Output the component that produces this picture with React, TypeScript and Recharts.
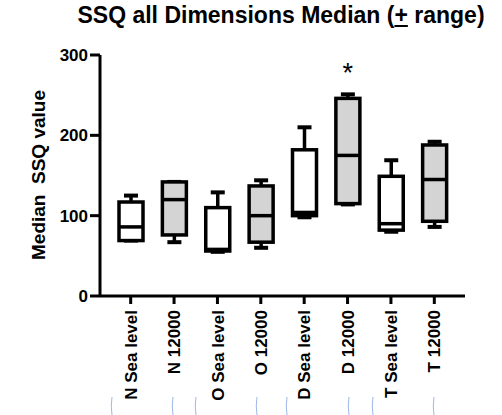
import { Bar, ComposedChart, Customized, XAxis, YAxis } from "recharts";

// groups, in plot order
const CATEGORIES = [
  "N Sea level",
  "N 12000",
  "O Sea level",
  "O 12000",
  "D Sea level",
  "D 12000",
  "T Sea level",
  "T 12000",
];

// box statistics
const MIN_VALUES = [69, 67, 55, 60, 98, 114, 80, 86];
const Q1_VALUES = [69, 76, 56, 67, 100, 115, 82, 93];
const MEDIAN_VALUES = [86, 120, 58, 100, 104, 175, 90, 145];
const Q3_VALUES = [117, 142, 110, 137, 182, 246, 149, 188];
const MAX_VALUES = [125, 142, 129, 144, 210, 251, 169, 192];
const SIG_MARKS = ["", "", "", "", "", "*", "", ""];

const Y_TICKS = [0, 100, 200, 300];

const FONT = "Arial, 'Liberation Sans', Helvetica, sans-serif";
const BOX_FILLS = ["#ffffff", "#d4d4d4"]; // sea level / 12000
const STROKE = "#000";

const data = CATEGORIES.map((name, i) => ({
  name,
  min: MIN_VALUES[i],
  q1: Q1_VALUES[i],
  median: MEDIAN_VALUES[i],
  q3: Q3_VALUES[i],
  max: MAX_VALUES[i],
  mark: SIG_MARKS[i],
}));

// box drawn on the q1..q3 range bar; other stats placed relative to it
const BoxShape = (props: any) => {
  const { x, y, width, height, payload, index } = props;
  const top = Math.min(y, y + height);
  const h = Math.abs(height);
  const ppu = h / (payload.q3 - payload.q1);
  const yOf = (v: number) => top + (payload.q3 - v) * ppu;
  const cx = x + width / 2;
  const cap = 7;
  return (
    <g>
      <line x1={cx} x2={cx} y1={yOf(payload.max)} y2={top} stroke={STROKE} strokeWidth={3.5} />
      <line x1={cx} x2={cx} y1={yOf(payload.min)} y2={top + h} stroke={STROKE} strokeWidth={3.5} />
      <line x1={cx - cap} x2={cx + cap} y1={yOf(payload.max)} y2={yOf(payload.max)} stroke={STROKE} strokeWidth={4} />
      <line x1={cx - cap} x2={cx + cap} y1={yOf(payload.min)} y2={yOf(payload.min)} stroke={STROKE} strokeWidth={4} />
      <rect x={x} y={top} width={width} height={h} fill={BOX_FILLS[index % 2]} stroke={STROKE} strokeWidth={3.5} />
      <line x1={x} x2={x + width} y1={yOf(payload.median)} y2={yOf(payload.median)} stroke={STROKE} strokeWidth={3.5} />
      {payload.mark ? (
        <text x={cx} y={yOf(payload.max) - 12} textAnchor="middle" fontSize={27} fontFamily={FONT} fill="#000">
          {payload.mark}
        </text>
      ) : null}
    </g>
  );
};

const XTick = (props: any) => {
  const { x, y, payload } = props;
  return (
    <text
      x={x}
      y={y + 4}
      transform={`rotate(-90, ${x}, ${y + 4})`}
      textAnchor="end"
      dy="0.36em"
      fontSize={17}
      fontWeight="bold"
      fontFamily={FONT}
      fill="#000"
    >
      {payload.value}
    </text>
  );
};

// faint blue marks under the labels in the source image
const Decor = () => {
  const xs = [112, 173, 196, 257, 287, 349, 373, 434];
  return (
    <g>
      {xs.map((bx, i) => (
        <path
          key={i}
          d={`M${bx},397 Q${bx - 1.5},406 ${bx},415`}
          fill="none"
          stroke="#9db7e8"
          strokeWidth={1}
        />
      ))}
    </g>
  );
};

export default function App() {
  return (
    <div style={{ position: "absolute", left: 0, top: 0, width: 502, height: 415, background: "#fff" }}>
      <div
        style={{
          position: "absolute",
          left: 0,
          top: 2,
          width: 562,
          textAlign: "center",
          fontFamily: FONT,
          fontWeight: "bold",
          fontSize: 23,
          lineHeight: "27px",
          color: "#000",
          whiteSpace: "nowrap",
        }}
      >
        SSQ all Dimensions Median (<span style={{ textDecoration: "underline" }}>+</span> range)
      </div>
      <ComposedChart
        width={502}
        height={415}
        data={data}
        margin={{ top: 55, right: 37, bottom: 19, left: 40 }}
      >
        <XAxis
          dataKey="name"
          interval={0}
          padding={{ left: 9, right: 9 }}
          tick={<XTick />}
          tickSize={8}
          axisLine={{ stroke: STROKE, strokeWidth: 3 }}
          tickLine={{ stroke: STROKE, strokeWidth: 3 }}
          height={100}
        />
        <YAxis
          width={60}
          domain={[0, 300]}
          ticks={Y_TICKS}
          interval={0}
          tickSize={10}
          axisLine={{ stroke: STROKE, strokeWidth: 3 }}
          tickLine={{ stroke: STROKE, strokeWidth: 3 }}
          tick={{ fill: "#000", fontSize: 17, fontWeight: "bold", fontFamily: FONT }}
        />
        <Bar
          dataKey={(d: any) => [d.q1, d.q3]}
          barSize={24}
          shape={<BoxShape />}
          isAnimationActive={false}
        />
        <Customized
          component={() => (
            <g>
              <text
                x={38}
                y={175}
                transform="rotate(-90, 38, 175)"
                textAnchor="middle"
                dominantBaseline="central"
                fontSize={19}
                fontWeight="bold"
                fontFamily={FONT}
                fill="#000"
                style={{ whiteSpace: "pre" }}
              >
                Median  SSQ value
              </text>
              <Decor />
            </g>
          )}
        />
      </ComposedChart>
    </div>
  );
}
